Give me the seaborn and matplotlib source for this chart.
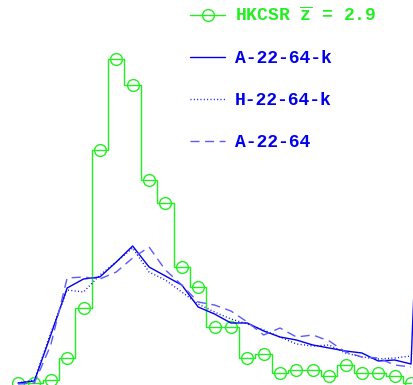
import matplotlib
matplotlib.use("Agg")
import matplotlib.pyplot as plt
import seaborn as sns
import pandas as pd
import numpy as np

sns.set_style("white")
plt.rcParams['font.family'] = ['Liberation Mono', 'DejaVu Sans']
plt.rcParams['mathtext.fontset'] = 'custom'
plt.rcParams['mathtext.rm'] = 'Liberation Mono:bold'
plt.rcParams['mathtext.it'] = 'Liberation Mono:bold'
plt.rcParams['mathtext.bf'] = 'Liberation Mono:bold'

# bin index (x) and relative frequencies (arbitrary units)
bins = list(range(25))
hkcsr = [1, 1, 4, 26, 76, 234, 325, 299, 204, 181, 117, 97, 57, 57, 26, 30,
         11, 14, 14, 8, 19, 11, 11, 8, 1]

bins_k = list(range(26))
a2264k = [1, 3, 49, 96, 105, 107, 122, 138, 117, 108, 99, 77, 70, 61, 61, 53,
          47, 44, 39, 36, 33, 31, 23, 24, 20, 431]
h2264k = [1, 4, 51, 94, 92, 109, 122, 136, 112, 104, 92, 80, 72, 65, 60, 54,
          47, 40, 38, 39, 31, 27, 25, 26, 28]
a2264 = [0, 1, 39, 106, 107, 105, 112, 126, 137, 114, 99, 82, 79, 73, 62, 49,
         56, 47, 49, 43, 32, 27, 26, 19, 17]

labels = [r"HKCSR $\overline{\mathrm{z}}$ = 2.9", "A-22-64-k", "H-22-64-k", "A-22-64"]

green = "#22ee22"
blue = "#0000ee"
lightblue = "#5a5aff"

fig = plt.figure(figsize=(4.14, 3.85), dpi=100)
ax = fig.add_axes([0, 0, 1, 1])

sns.lineplot(x=bins, y=hkcsr, ax=ax, color=green, lw=1.0,
             drawstyle="steps-mid", marker="o", markersize=8.5,
             markerfacecolor="none", markeredgecolor=green,
             markeredgewidth=1.0, label=labels[0], sort=False)
sns.lineplot(x=bins_k, y=a2264k, ax=ax, color=blue, lw=1.0,
             label=labels[1], sort=False)
sns.lineplot(x=bins, y=h2264k, ax=ax, color=blue, lw=1.0,
             linestyle=(0, (0.7, 1.7)), label=labels[2], sort=False)
sns.lineplot(x=bins, y=a2264, ax=ax, color=lightblue, lw=1.0,
             linestyle=(0, (6.5, 4.0)), label=labels[3], sort=False)

ax.set_xlim(-1.10, 24.18)
ax.set_ylim(-1, 384)
ax.axis("off")

leg = ax.legend(loc="upper left", bbox_to_anchor=(190 / 414, 1 - 7 / 385),
                bbox_transform=fig.transFigure, frameon=False,
                prop={"family": ["Liberation Mono", "DejaVu Sans"],
                      "size": 13, "weight": "bold"},
                handlelength=1.95, handletextpad=0.55, labelspacing=1.38,
                borderpad=0, borderaxespad=0)
for txt, c in zip(leg.get_texts(), [green, blue, blue, blue]):
    txt.set_color(c)

fig.savefig("out.png", dpi=100)
